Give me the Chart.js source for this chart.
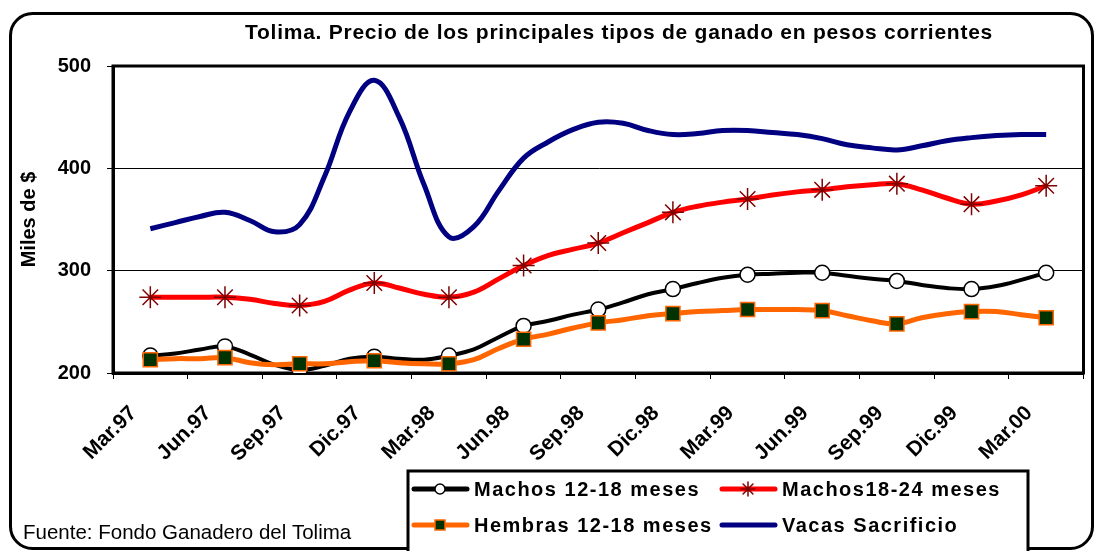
<!DOCTYPE html>
<html>
<head>
<meta charset="utf-8">
<script src="https://cdn.jsdelivr.net/npm/chart.js@4.4.1/dist/chart.umd.min.js"></script>
<style>
  html, body { margin: 0; padding: 0; background: #ffffff; }
  #wrap { position: relative; width: 1096px; height: 551px; }
</style>
</head>
<body>
<div id="wrap"><canvas id="ganadoChart" width="1096" height="551"></canvas></div>
<script>
const quarterLabels = ["Mar.97", "Jun.97", "Sep.97", "Dic.97", "Mar.98", "Jun.98", "Sep.98", "Dic.98", "Mar.99", "Jun.99", "Sep.99", "Dic.99", "Mar.00"];

// monthly values, Mar.97 .. Mar.00 (miles de $)
const machos1218 = [217, 219, 223, 226, 218, 208, 203, 207, 214, 216, 214, 213, 217, 223, 235, 246, 251, 257, 262, 269, 277, 282, 288, 293, 296, 297, 298, 298, 295, 292, 290, 286, 283, 282, 285, 291, 298];
const machos1824 = [274, 274, 274, 274, 272, 268, 266, 270, 281, 288, 283, 277, 274, 279, 292, 305, 315, 321, 327, 337, 347, 357, 363, 367, 370, 374, 377, 379, 382, 384, 385, 379, 371, 365, 368, 374, 383];
const hembras1218 = [213, 214, 214, 215, 210, 208, 209, 209, 211, 212, 210, 209, 209, 213, 224, 233, 238, 244, 249, 252, 256, 258, 260, 261, 262, 262, 262, 261, 256, 251, 248, 254, 258, 260, 260, 257, 254];
const vacasSacrificio = [341, 347, 353, 357, 349, 338, 345, 392, 455, 486, 450, 384, 333, 343, 378, 410, 426, 438, 445, 444, 437, 433, 434, 437, 437, 435, 433, 429, 423, 420, 418, 422, 427, 430, 432, 433, 433];

const yTicks = [200, 300, 400, 500];

const baseFont = '"Liberation Sans", Arial, sans-serif';

function toPoints(values) {
  return values.map((value, index) => ({ x: index, y: value }));
}

function quarterMarker(radius) {
  return (ctx) => (ctx.dataIndex % 3 === 0 ? radius : 0);
}

function drawMarker(ctx, style, x, y, r, fill, stroke) {
  ctx.save();
  ctx.lineWidth = 1.5;
  ctx.fillStyle = fill;
  ctx.strokeStyle = stroke;
  ctx.beginPath();
  if (style === "circle") {
    ctx.arc(x, y, r, 0, Math.PI * 2);
    ctx.fill();
    ctx.stroke();
  } else if (style === "rect") {
    ctx.rect(x - r, y - r, r * 2, r * 2);
    ctx.fill();
    ctx.stroke();
  } else if (style === "star") {
    const d = r * 0.7071;
    ctx.moveTo(x, y - r); ctx.lineTo(x, y + r);
    ctx.moveTo(x - r, y); ctx.lineTo(x + r, y);
    ctx.moveTo(x - d, y - d); ctx.lineTo(x + d, y + d);
    ctx.moveTo(x - d, y + d); ctx.lineTo(x + d, y - d);
    ctx.stroke();
  }
  ctx.restore();
}

const legendItems = [
  { text: "Machos 12-18 meses", color: "#000000", marker: "circle", r: 5, fill: "#ffffff", stroke: "#000000", col: 0, row: 0 },
  { text: "Machos18-24 meses", color: "#ff0000", marker: "star", r: 7, fill: "#800000", stroke: "#800000", col: 1, row: 0 },
  { text: "Hembras 12-18 meses", color: "#ff6600", marker: "rect", r: 5, fill: "#003300", stroke: "#ff6600", col: 0, row: 1 },
  { text: "Vacas Sacrificio", color: "#000080", marker: null, col: 1, row: 1 }
];

const decorations = {
  id: "decorations",
  beforeDatasetsDraw(chart) {
    const { ctx, chartArea } = chart;
    ctx.save();
    ctx.strokeStyle = "#000000";
    ctx.lineWidth = 3;
    ctx.strokeRect(chartArea.left, chartArea.top, chartArea.right - chartArea.left, chartArea.bottom - chartArea.top);
    ctx.restore();
  },
  afterDraw(chart) {
    const { ctx } = chart;
    ctx.save();

    // outer rounded frame
    ctx.strokeStyle = "#000000";
    ctx.lineWidth = 3;
    ctx.beginPath();
    ctx.roundRect(10.5, 13.5, 1082, 535, 22);
    ctx.stroke();

    // title
    ctx.fillStyle = "#000000";
    ctx.font = `bold 21px ${baseFont}`;
    ctx.letterSpacing = "0.75px";
    ctx.textAlign = "center";
    ctx.textBaseline = "middle";
    ctx.fillText("Tolima. Precio de los principales tipos de ganado en pesos corrientes", 619, 33);

    // source
    ctx.font = `20.5px ${baseFont}`;
    ctx.letterSpacing = "0px";
    ctx.textAlign = "left";
    ctx.textBaseline = "alphabetic";
    ctx.fillText("Fuente: Fondo Ganadero del Tolima", 23, 539);

    // legend box
    ctx.fillStyle = "#ffffff";
    ctx.fillRect(408, 471, 620, 90);
    ctx.strokeStyle = "#000000";
    ctx.lineWidth = 3;
    ctx.strokeRect(408, 471, 620, 90);

    const colX = [412, 720];
    const rowY = [489, 525];
    ctx.font = `bold 20px ${baseFont}`;
    ctx.letterSpacing = "1.5px";
    ctx.textBaseline = "middle";
    legendItems.forEach((item) => {
      const x0 = colX[item.col];
      const y = rowY[item.row];
      ctx.strokeStyle = item.color;
      ctx.lineWidth = 5;
      ctx.lineCap = "round";
      ctx.beginPath();
      ctx.moveTo(x0 + 2, y);
      ctx.lineTo(x0 + 55, y);
      ctx.stroke();
      if (item.marker) {
        drawMarker(ctx, item.marker, x0 + 28, y, item.r, item.fill, item.stroke);
      }
      ctx.fillStyle = "#000000";
      ctx.fillText(item.text, x0 + 62, y + 1);
    });
    ctx.restore();
  }
};

new Chart(document.getElementById("ganadoChart"), {
  type: "line",
  data: {
    labels: quarterLabels,
    datasets: [
      {
        label: "Machos 12-18 meses",
        data: toPoints(machos1218),
        xAxisID: "xm",
        borderColor: "#000000",
        borderWidth: 4,
        tension: 0.4,
        pointStyle: "circle",
        pointRadius: quarterMarker(7.5),
        pointBackgroundColor: "#ffffff",
        pointBorderColor: "#000000",
        pointBorderWidth: 1.5,
        order: 4
      },
      {
        label: "Machos18-24 meses",
        data: toPoints(machos1824),
        xAxisID: "xm",
        borderColor: "#ff0000",
        borderWidth: 5,
        tension: 0.4,
        pointStyle: "star",
        pointRadius: quarterMarker(11),
        pointBackgroundColor: "#800000",
        pointBorderColor: "#800000",
        pointBorderWidth: 1.5,
        order: 3
      },
      {
        label: "Hembras 12-18 meses",
        data: toPoints(hembras1218),
        xAxisID: "xm",
        borderColor: "#ff6600",
        borderWidth: 5,
        tension: 0.4,
        pointStyle: "rect",
        pointRadius: quarterMarker(10),
        pointBackgroundColor: "#003300",
        pointBorderColor: "#ff6600",
        pointBorderWidth: 1.5,
        order: 2
      },
      {
        label: "Vacas Sacrificio",
        data: toPoints(vacasSacrificio),
        xAxisID: "xm",
        borderColor: "#000080",
        borderWidth: 5,
        tension: 0.4,
        pointRadius: 0,
        order: 1
      }
    ]
  },
  options: {
    responsive: false,
    animation: false,
    events: [],
    layout: { padding: { left: 10, right: 10, top: 66, bottom: 0 } },
    plugins: {
      legend: { display: false },
      title: { display: false },
      tooltip: { enabled: false }
    },
    scales: {
      x: {
        type: "category",
        position: "bottom",
        offset: true,
        afterFit: (scale) => { scale.height = 178; },
        grid: { offset: true, drawOnChartArea: false, drawTicks: true, tickLength: 6, color: "#000000", lineWidth: 1 },
        border: { display: true, color: "#000000", width: 3 },
        ticks: {
          autoSkip: false,
          minRotation: 45,
          maxRotation: 45,
          padding: 22,
          labelOffset: -17,
          color: "#000000",
          font: { family: baseFont, size: 21, weight: "bold" }
        }
      },
      xm: {
        type: "linear",
        position: "bottom",
        display: false,
        min: -1.5,
        max: 37.5
      },
      y: {
        position: "left",
        min: 200,
        max: 500,
        afterFit: (scale) => { scale.width = 103; },
        afterBuildTicks: (scale) => { scale.ticks = yTicks.map((value) => ({ value })); },
        grid: { color: "#000000", lineWidth: 1, drawTicks: true, tickLength: 6 },
        border: { display: true, color: "#000000", width: 3 },
        ticks: {
          padding: 16,
          color: "#000000",
          font: { family: baseFont, size: 20, weight: "bold" }
        },
        title: {
          display: true,
          text: "Miles de $",
          color: "#000000",
          padding: { top: 7, bottom: 0 },
          font: { family: baseFont, size: 20, weight: "bold" }
        }
      }
    }
  },
  plugins: [decorations]
});
</script>
</body>
</html>
